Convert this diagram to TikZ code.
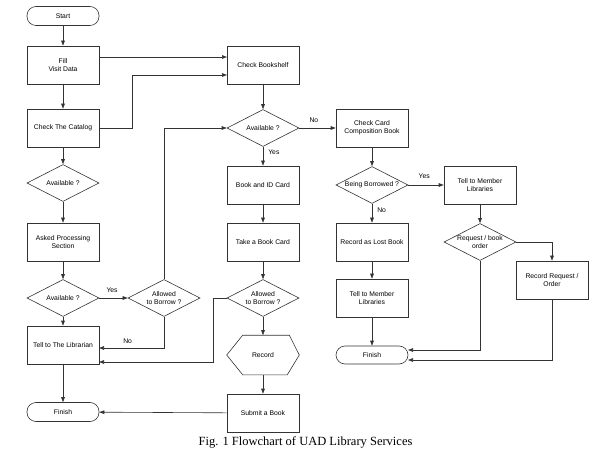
\documentclass[tikz,border=0pt]{standalone}
\usepackage{fontspec}
\setmainfont{Liberation Serif}
\newfontfamily\boxfont{Liberation Sans}
\usetikzlibrary{shapes.geometric,arrows.meta,calc}
\begin{document}
\begin{tikzpicture}[x=1pt,y=-1pt,
  base/.style={draw=black!80,line width=0.6pt,font=\boxfont\fontsize{6.8}{8}\selectfont,align=center,inner sep=0pt},
  proc/.style={base,rectangle,minimum width=72pt,minimum height=38pt},
  term/.style={base,rectangle,rounded corners=9pt,minimum width=72pt,minimum height=19pt},
  dec/.style={base,diamond,aspect=2,minimum width=72pt,minimum height=37pt},
  conn/.style={draw=black!80,line width=0.6pt,-{Triangle[length=5pt,width=3.6pt]}},
  plain/.style={draw=black!80,line width=0.6pt},
  lbl/.style={font=\boxfont\fontsize{6.8}{8}\selectfont,inner sep=0pt}]
\useasboundingbox (0,0) rectangle (613,454);
% left column
\node[term] (start) at (63,16) {Start};
\node[proc] (fill) at (63,65) {Fill\\Visit Data};
\node[proc] (catalog) at (63,128) {Check The Catalog};
\node[dec] (avail1) at (63,183) {Available ?};
\node[proc] (asked) at (63,242) {Asked Processing\\Section};
\node[dec] (avail2) at (63,298) {Available ?};
\node[proc] (tell) at (63,345) {Tell to The Librarian};
\node[term] (finish1) at (63,412) {Finish};
\node[dec] (allow1) at (164,298) {Allowed\\to Borrow ?};
% middle column
\node[proc] (shelf) at (263,65) {Check Bookshelf};
\node[dec] (availm) at (263,128) {Available ?};
\node[proc] (bookid) at (263,185) {Book and ID Card};
\node[proc] (take) at (263,242) {Take a Book Card};
\node[dec] (allowm) at (263,298) {Allowed\\to Borrow ?};
\node[base,draw=none,minimum width=72pt,minimum height=39pt] (record) at (263,355) {Record};
\draw[plain] (record.west) -- ([xshift=16pt]record.north west) -- ([xshift=-10pt]record.north east)
  -- (record.east) -- ([xshift=-12pt]record.south east) -- ([xshift=16pt]record.south west) -- cycle;
\node[proc] (submit) at (263,413) {Submit a Book};
% right columns
\node[proc] (ccb) at (372,128) {Check Card\\Composition Book};
\node[dec] (being) at (372,185) {Being Borrowed ?};
\node[proc] (lost) at (372,242) {Record as Lost Book};
\node[proc] (tellm) at (372,298) {Tell to Member\\Libraries};
\node[term,minimum height=18pt] (finish2) at (372,355) {Finish};
\node[proc] (tellr) at (480,185) {Tell to Member\\Libraries};
\node[dec] (request) at (480,242) {Request / book\\order};
\node[proc] (recreq) at (552,280) {Record Request /\\Order};
% helper coordinates
\coordinate (fillout) at (99,57);
\coordinate (shelfin1) at (227,57);
\coordinate (catbend) at (132,128);
\coordinate (shelfin2) at (227,75);
\coordinate (tellin1) at (99,348);
\coordinate (tellin2) at (99,362);
\coordinate (allowbend) at (213,298);
\coordinate (reqbend) at (552,242);
\coordinate (fin2in1) at (408,350);
\coordinate (fin2in2) at (408,360);
% connectors left
\draw[conn] (start) -- (fill);
\draw[conn] (fill) -- (catalog);
\draw[conn] (catalog) -- (avail1);
\draw[conn] (avail1) -- (asked);
\draw[conn] (asked) -- (avail2);
\draw[conn] (avail2) -- (tell);
\draw[conn] (tell) -- (finish1);
\draw[conn] (avail2) -- node[lbl,above=5pt,pos=0.45] {Yes} (allow1);
\draw[conn] (allow1.north) |- (availm.west);
\draw[conn] (allow1.south) |- node[lbl,above=4pt,pos=0.78] {No} (tellin1);
\draw[conn] (fillout) -- (shelfin1);
\draw[conn] (catalog.east) -- (catbend) |- (shelfin2);
% middle
\draw[conn] (shelf) -- (availm);
\draw[conn] (availm) -- node[lbl,right=5pt,pos=0.3] {Yes} (bookid);
\draw[conn] (bookid) -- (take);
\draw[conn] (take) -- (allowm);
\draw[conn] (allowm) -- (record);
\draw[conn] (allowm.west) -- (allowbend) |- (tellin2);
\draw[conn] (record) -- (submit);
\draw[conn] (submit) -- (finish1);
% right
\draw[conn] (availm.east) -- node[lbl,above=5pt,pos=0.4] {No} (ccb);
\draw[conn] (ccb) -- (being);
\draw[conn] (being) -- node[lbl,above=6pt,pos=0.45] {Yes} (tellr);
\draw[conn] (being) -- node[lbl,right=5pt,pos=0.35] {No} (lost);
\draw[conn] (lost) -- (tellm);
\draw[conn] (tellm) -- (finish2);
\draw[conn] (tellr) -- (request);
\draw[conn] (request.east) -- (reqbend) -- (recreq.north);
\draw[conn] (request.south) |- (fin2in1);
\draw[conn] (recreq.south) |- (fin2in2);
% caption
\node[font=\fontsize{12.5}{14}\selectfont,inner sep=0pt] (caption) at (305.5,442) {Fig. 1 Flowchart of UAD Library Services};
\end{tikzpicture}
\end{document}
